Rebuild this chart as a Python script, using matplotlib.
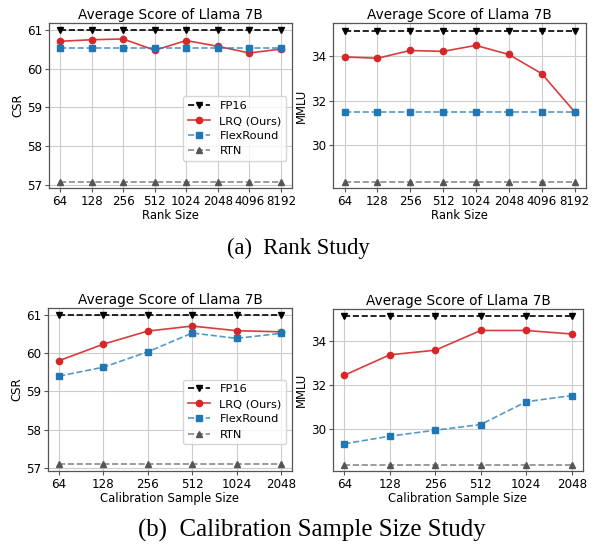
import matplotlib
matplotlib.use("Agg")
import matplotlib.pyplot as plt
import numpy as np

# ---- data ----
rank_labels = ["64", "128", "256", "512", "1024", "2048", "4096", "8192"]
calib_labels = ["64", "128", "256", "512", "1024", "2048"]

rank_csr_fp16 = [60.99] * 8
rank_csr_lrq = [60.70, 60.74, 60.76, 60.47, 60.72, 60.57, 60.40, 60.50]
rank_csr_flex = [60.52] * 8
rank_csr_rtn = [57.09] * 8

rank_mmlu_fp16 = [35.15] * 8
rank_mmlu_lrq = [33.98, 33.92, 34.27, 34.23, 34.50, 34.09, 33.23, 31.51]
rank_mmlu_flex = [31.51] * 8
rank_mmlu_rtn = [28.34] * 8

calib_csr_fp16 = [60.98] * 6
calib_csr_lrq = [59.80, 60.23, 60.57, 60.70, 60.58, 60.55]
calib_csr_flex = [59.40, 59.63, 60.03, 60.52, 60.38, 60.51]
calib_csr_rtn = [57.10] * 6

calib_mmlu_fp16 = [35.15] * 6
calib_mmlu_lrq = [32.46, 33.39, 33.60, 34.50, 34.50, 34.34]
calib_mmlu_flex = [29.33, 29.68, 29.95, 30.21, 31.25, 31.53]
calib_mmlu_rtn = [28.37] * 6

series_names = ["FP16", "LRQ (Ours)", "FlexRound", "RTN"]
title = "Average Score of Llama 7B"

W, H = 595, 546
fig = plt.figure(figsize=(W / 100, H / 100), dpi=100)


def px_axes(l, r, t, b):
    return fig.add_axes([l / W, 1 - b / H, (r - l) / W, (b - t) / H])


styles = [
    dict(color="black", ls="--", marker="v", mfc="black", mec="black"),
    dict(color=(0.839, 0.153, 0.157, 0.9), ls="-", marker="o", mfc="#d62728", mec="#d62728"),
    dict(color=(0.122, 0.467, 0.706, 0.75), ls="--", marker="s", mfc="#1f77b4", mec="#1f77b4"),
    dict(color=(0.35, 0.35, 0.35, 0.7), ls="--", marker="^", mfc="#555555", mec="#555555"),
]


def draw(ax, labels, series, ylabel, xlabel, ylim, yticks, legend):
    x = np.arange(len(labels))
    for name, vals, st in zip(series_names, series, styles):
        ax.plot(x, vals, label=name, lw=1.2, markersize=4.5, **st)
    ax.set_xticks(x)
    ax.set_xticklabels(labels)
    ax.set_yticks(yticks)
    ax.set_ylim(*ylim)
    ax.set_title(title, fontsize=9.8, pad=3)
    ax.set_xlabel(xlabel, fontsize=8.4, labelpad=0.5)
    ax.set_ylabel(ylabel, fontsize=8.4, labelpad=2)
    ax.tick_params(labelsize=8.6, length=3, width=0.8, color="#555555", pad=2)
    ax.grid(True, color="#cccccc", lw=0.8)
    ax.set_axisbelow(True)
    for s in ax.spines.values():
        s.set_color("#555555")
        s.set_linewidth(0.9)
    if legend:
        ax.legend(loc="lower right", bbox_to_anchor=(1.0, 0.13), fontsize=8.2,
                  handlelength=2.0, borderpad=0.4, labelspacing=0.45)


ax1 = px_axes(49, 292, 23, 188)
draw(ax1, rank_labels, [rank_csr_fp16, rank_csr_lrq, rank_csr_flex, rank_csr_rtn],
     "CSR", "Rank Size", (56.93, 61.17), [57, 58, 59, 60, 61], True)

ax2 = px_axes(333, 586, 23, 188)
draw(ax2, rank_labels, [rank_mmlu_fp16, rank_mmlu_lrq, rank_mmlu_flex, rank_mmlu_rtn],
     "MMLU", "Rank Size", (28.07, 35.51), [30, 32, 34], False)

ax3 = px_axes(48, 292, 308, 471)
draw(ax3, calib_labels, [calib_csr_fp16, calib_csr_lrq, calib_csr_flex, calib_csr_rtn],
     "CSR", "Calibration Sample Size", (56.93, 61.17), [57, 58, 59, 60, 61], True)

ax4 = px_axes(333, 583, 309, 471)
draw(ax4, calib_labels, [calib_mmlu_fp16, calib_mmlu_lrq, calib_mmlu_flex, calib_mmlu_rtn],
     "MMLU", "Calibration Sample Size", (28.09, 35.48), [30, 32, 34], False)

fig.text(298 / W, 1 - 248 / H, "(a)  Rank Study", ha="center", va="center",
         family="Liberation Serif", fontsize=16.3)
fig.text(312 / W, 1 - 530 / H, "(b)  Calibration Sample Size Study", ha="center", va="center",
         family="Liberation Serif", fontsize=17.9)

fig.savefig("out.png", dpi=100)
